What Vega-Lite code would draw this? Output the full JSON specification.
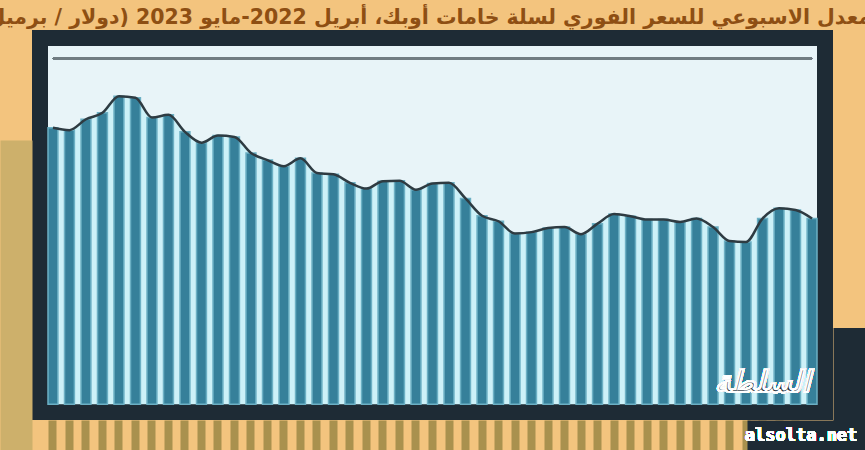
{
  "$schema": "https://vega.github.io/schema/vega-lite/v6.json",
  "width": 785,
  "height": 374,
  "autosize": {"type": "none"},
  "padding": {"left": 40, "top": 38, "right": 40, "bottom": 38},
  "background": "#f3c47e",
  "title": {
    "text": "المعدل الاسبوعي للسعر الفوري لسلة خامات أوبك، أبريل 2022-مايو 2023 (دولار / برميل)",
    "font": "DejaVu Sans",
    "fontSize": 20.5,
    "fontWeight": "bold",
    "color": "#8e4f13",
    "anchor": "middle",
    "baseline": "alphabetic",
    "offset": -6,
    "dx": 0
  },
  "data": {
    "values": [
      {"week": 1, "price": 109.6}, {"week": 2, "price": 108.9}, {"week": 3, "price": 112.1},
      {"week": 4, "price": 114.0}, {"week": 5, "price": 118.9}, {"week": 6, "price": 118.4},
      {"week": 7, "price": 112.6}, {"week": 8, "price": 113.4}, {"week": 9, "price": 108.4},
      {"week": 10, "price": 105.2}, {"week": 11, "price": 107.3}, {"week": 12, "price": 106.9},
      {"week": 13, "price": 102.2}, {"week": 14, "price": 100.1}, {"week": 15, "price": 98.3},
      {"week": 16, "price": 100.6}, {"week": 17, "price": 96.3}, {"week": 18, "price": 95.9},
      {"week": 19, "price": 93.4}, {"week": 20, "price": 91.7}, {"week": 21, "price": 93.9},
      {"week": 22, "price": 94.0}, {"week": 23, "price": 91.4}, {"week": 24, "price": 93.2},
      {"week": 25, "price": 93.4}, {"week": 26, "price": 88.8}, {"week": 27, "price": 83.7},
      {"week": 28, "price": 82.1}, {"week": 29, "price": 78.5}, {"week": 30, "price": 78.9},
      {"week": 31, "price": 80.1}, {"week": 32, "price": 80.4}, {"week": 33, "price": 78.3},
      {"week": 34, "price": 81.4}, {"week": 35, "price": 84.2}, {"week": 36, "price": 83.6},
      {"week": 37, "price": 82.6}, {"week": 38, "price": 82.6}, {"week": 39, "price": 81.9},
      {"week": 40, "price": 82.9}, {"week": 41, "price": 80.4}, {"week": 42, "price": 76.3},
      {"week": 43, "price": 76.0}, {"week": 44, "price": 82.9}, {"week": 45, "price": 85.9},
      {"week": 46, "price": 85.4}, {"week": 47, "price": 82.9}
    ]
  },
  "encoding": {
    "x": {
      "field": "week",
      "type": "ordinal",
      "scale": {"paddingInner": 0.4, "paddingOuter": 0.485},
      "axis": {
        "title": null,
        "labels": false,
        "domain": false,
        "grid": false,
        "ticks": true,
        "tickSize": 32,
        "offset": 8,
        "tickColor": {"condition": {"test": "datum.value == 47", "value": "#1e2b35"}, "value": "#a9914e"},
        "tickWidth": {"condition": {"test": "datum.value == 47", "value": 130}, "value": 8}
      }
    }
  },
  "layer": [
    {
      "mark": {"type": "area", "interpolate": "monotone", "color": "#cdf1f8"},
      "encoding": {
        "y": {
          "field": "price",
          "type": "quantitative",
          "scale": {"domain": [26, 136], "zero": false, "nice": false},
          "axis": {
            "title": null,
            "orient": "left",
            "values": [60.4],
            "grid": false,
            "labels": false,
            "ticks": true,
            "offset": 8,
            "tickSize": 32,
            "tickColor": "#cdb06b",
            "tickWidth": 310,
            "domain": false
          }
        },
        "y2": {"datum": 28.3}
      }
    },
    {
      "mark": {"type": "bar", "color": "#36809a", "stroke": "#6cb0c4", "strokeWidth": 1.5},
      "encoding": {
        "y": {
          "field": "price",
          "type": "quantitative",
          "axis": {
            "title": null,
            "orient": "right",
            "values": [37.3],
            "grid": false,
            "labels": false,
            "ticks": true,
            "offset": 8,
            "tickSize": 32,
            "tickColor": "#1e2b35",
            "tickWidth": 93,
            "domain": false
          }
        },
        "y2": {"datum": 28.3}
      }
    },
    {
      "mark": {"type": "rule", "color": "#717c82", "strokeWidth": 2},
      "encoding": {"x": {"datum": 1}, "x2": {"datum": 47}, "y": {"datum": 130, "axis": null}}
    },
    {
      "mark": {"type": "line", "interpolate": "monotone", "color": "#2e3b42", "strokeWidth": 2.5},
      "encoding": {"y": {"field": "price", "type": "quantitative", "axis": null}}
    },
    {
      "mark": {"type": "text", "text": "السلطة", "font": "DejaVu Sans", "fontSize": 30, "fontWeight": "bold", "fontStyle": "italic", "color": "#1e2b35", "stroke": "#ffffff", "strokeWidth": 1, "align": "center", "baseline": "alphabetic"},
      "encoding": {"x": {"datum": 44}, "y": {"datum": 31.9, "axis": null}}
    },
    {
      "mark": {"type": "text", "text": "alsolta.net", "font": "DejaVu Sans Mono", "fontSize": 17, "fontWeight": "bold", "color": "#ffffff", "align": "center", "baseline": "alphabetic", "dx": -11},
      "encoding": {"x": {"datum": 47}, "y": {"datum": 17.5, "axis": null}}
    }
  ],
  "resolve": {"axis": {"y": "independent"}},
  "config": {
    "view": {"fill": "#e8f4f8", "stroke": "#1e2b35", "strokeWidth": 16}
  }
}
